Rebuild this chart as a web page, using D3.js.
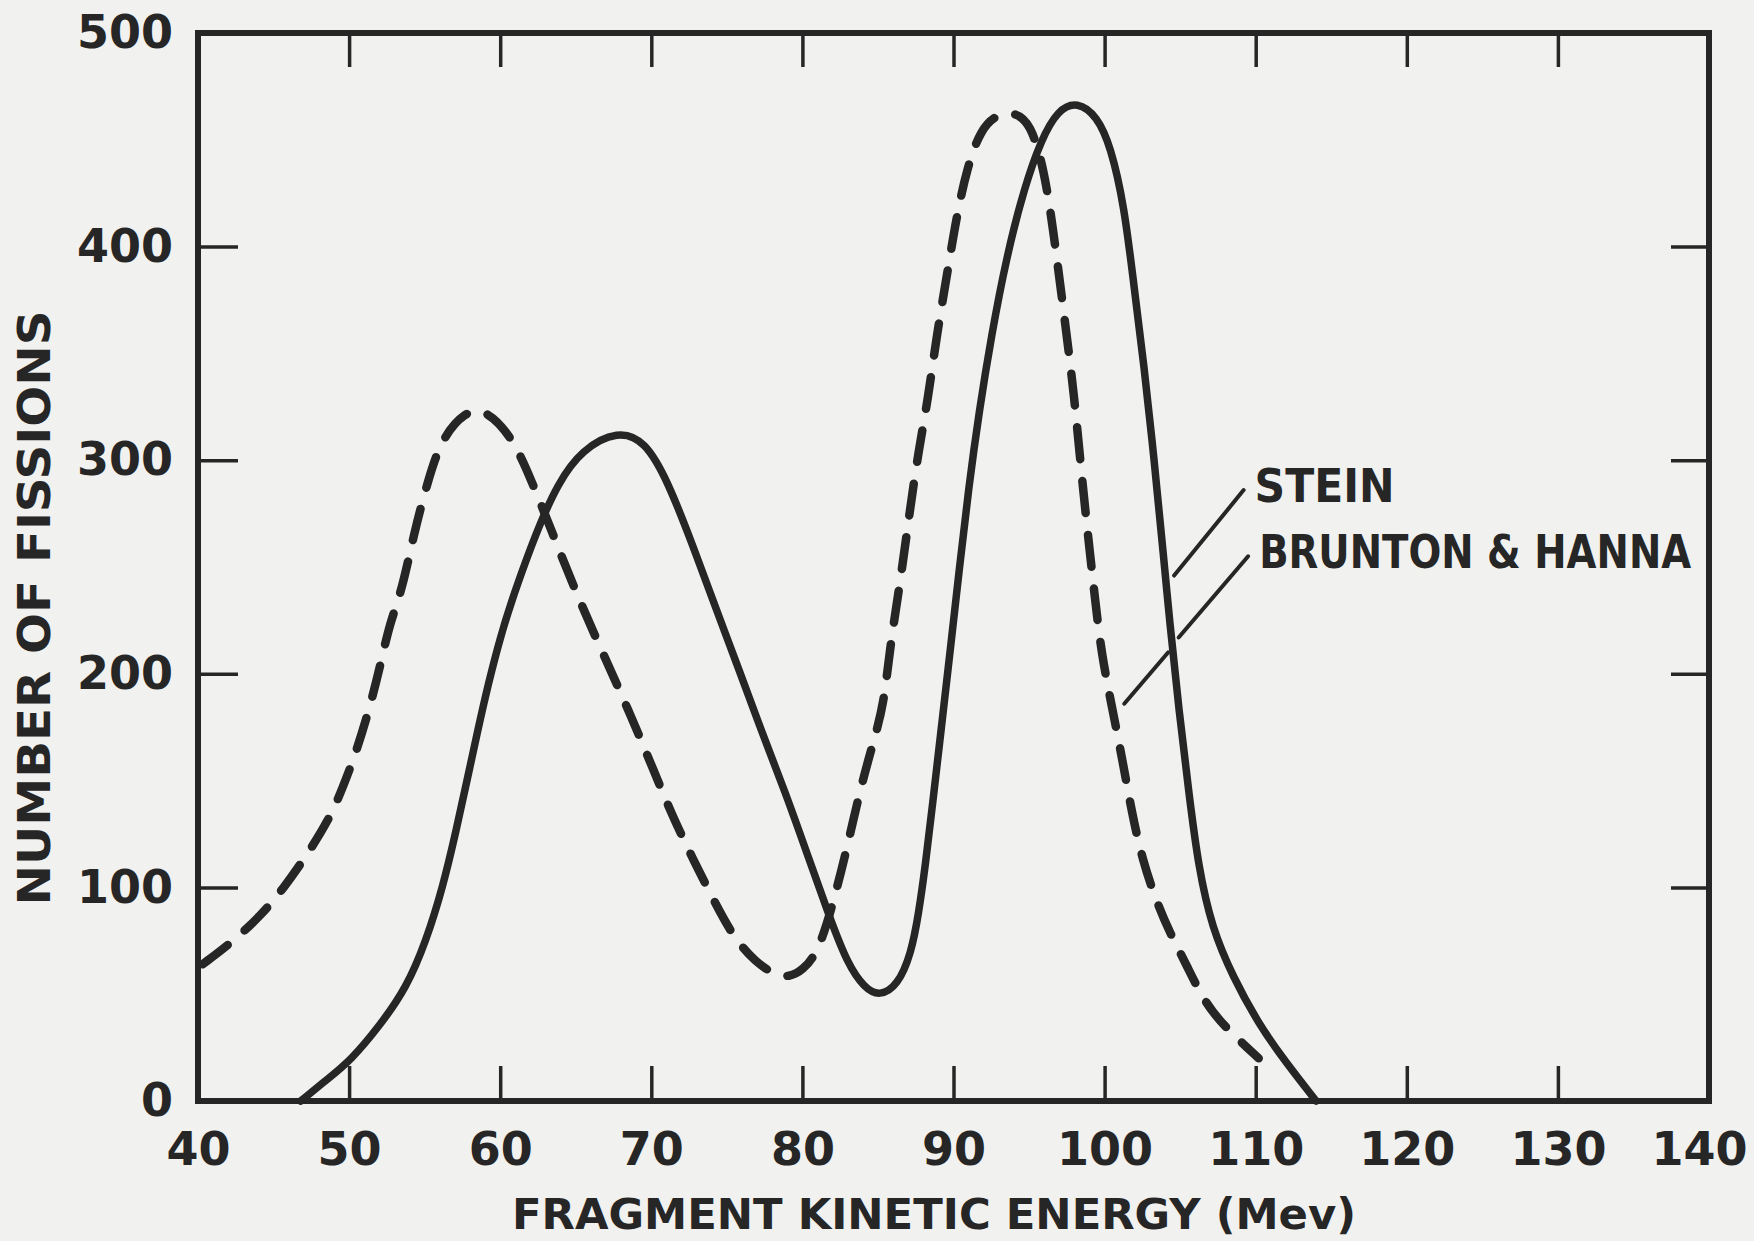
<!DOCTYPE html>
<html>
<head>
<meta charset="utf-8">
<script src="https://cdn.jsdelivr.net/npm/d3@7"></script>
<style>
  html, body { margin: 0; padding: 0; background: #f1f1ef; }
  svg { display: block; }
  text { font-family: "DejaVu Sans", sans-serif; font-weight: bold; fill: #262626; }
</style>
</head>
<body>
<svg id="chart" width="1754" height="1241"></svg>
<script>
// Curves: energy (Mev) and number of fissions.
const steinEnergy = [46.8, 48.7, 50.1, 52.0, 53.8, 55.1, 56.2, 57.1, 57.8, 58.5, 59.2, 60.0, 60.8, 61.6, 62.5, 63.8,
  65.4, 67.8, 69.6, 71.1, 72.7, 74.2, 75.8, 77.3, 78.9, 80.4, 81.8, 83.0, 84.1, 85.1, 86.3, 87.2, 87.7, 88.15,
  88.6, 89.2, 89.8, 90.4, 91.0, 91.7, 92.5, 93.5, 94.7, 95.8, 96.9, 98.2, 99.5, 100.4, 101.3, 101.9, 102.6,
  103.3, 103.9, 104.3, 104.9, 105.6, 106.2, 107.1, 108.5, 110.2, 112, 114];
const steinCount = [0, 11, 19, 35, 53, 75, 100, 127, 150, 173, 195, 217, 235, 251, 268, 289,
  305, 314, 309, 290, 261, 232, 202, 173, 144, 114, 86, 64, 53, 49, 54, 69, 88, 111,
  138, 175, 212, 250, 287, 323, 358, 395, 428, 450, 464, 468, 461, 447, 419, 384, 345,
  299, 255, 225, 184, 143, 110, 81, 58, 36, 18, 0];

const bhEnergy = [40.3, 42.2, 44.2, 45.7, 47.1, 48.7, 49.6, 50.5, 51.4, 52.1, 52.7, 53.5, 54.3, 55.2, 56.1, 57.7,
  59.0, 60.8, 62.1, 63.4, 64.9, 66.7, 68.5, 70.2, 71.3, 72.7, 74.2, 75.5, 76.9, 78.2, 79.1, 80, 81.1, 82.2,
  83.0, 83.9, 84.7, 85.4, 85.8, 86.5, 87.1, 87.7, 88.3, 88.9, 89.6, 90.2, 90.9, 91.8, 92.9, 94.0, 95.1, 96.0,
  96.6, 97.3, 98.0, 98.5, 99.1, 99.4, 99.8, 100.5, 101.2, 101.8, 102.5, 103.4, 104.3, 105.4, 106.7, 108.2, 110.2];
const bhCount = [64, 74, 87, 100, 114, 132, 147, 164, 185, 205, 224, 239, 266, 290, 310, 323,
  324, 311, 290, 267, 240, 211, 183, 154, 135, 114, 93, 76, 65, 59, 58, 61, 70, 97,
  120, 148, 168, 186, 213, 244, 276, 305, 328, 359, 388, 414, 437, 455, 462, 463, 458, 436,
  408, 369, 330, 291, 252, 233, 209, 184, 159, 135, 113, 94, 79, 64, 45, 33, 20];

const xTicks = [40, 50, 60, 70, 80, 90, 100, 110, 120, 130, 140];
const yTicks = [0, 100, 200, 300, 400, 500];
const xTitle = "FRAGMENT KINETIC ENERGY (Mev)";
const yTitle = "NUMBER OF FISSIONS";
const seriesNames = ["STEIN", "BRUNTON & HANNA"];

// Leader lines from the labels to the curves, in data units.
const steinLeader = [[109.2, 286], [104.6, 246]];
const bhLeader = [[[109.5, 255], [104.9, 217]], [[104.2, 210], [101.3, 186]]];

const ink = "#262626";
const svg = d3.select("#chart");

const x = d3.scaleLinear().domain([40, 140]).range([198, 1709]);
const y = d3.scaleLinear().domain([0, 500]).range([1101, 33]);

// Ticks on all four sides, pointing inward.
const axes = [
  { axis: d3.axisBottom(x).tickValues(xTicks).tickSize(-35).tickPadding(31), at: [0, y(0)] },
  { axis: d3.axisTop(x).tickValues(xTicks).tickSize(-34).tickFormat(""), at: [0, y(500)] },
  { axis: d3.axisLeft(y).tickValues(yTicks).tickSize(-40).tickPadding(25), at: [x(40), 0] },
  { axis: d3.axisRight(y).tickValues(yTicks).tickSize(-38).tickFormat(""), at: [x(140), 0] },
];
axes.forEach((a, i) => {
  const g = svg.append("g").attr("transform", `translate(${a.at[0]},${a.at[1]})`).call(a.axis);
  g.select(".domain").remove();
  g.selectAll(".tick line").attr("stroke", ink).attr("stroke-width", 3.5);
  g.selectAll(".tick text")
    .attr("fill", ink)
    .style("font-size", "46px")
    .style("font-family", '"DejaVu Sans", sans-serif')
    .style("font-weight", "bold");
  // The last bottom label sits against the page edge, as in the original.
  if (i === 0) {
    g.selectAll(".tick text").filter((d) => d === 140).attr("text-anchor", "end").attr("x", 38);
  }
});

// Frame.
svg.append("rect")
  .attr("x", x(40)).attr("y", y(500))
  .attr("width", x(140) - x(40)).attr("height", y(0) - y(500))
  .attr("fill", "none").attr("stroke", ink).attr("stroke-width", 6);

const line = d3.line()
  .x((d) => x(d[0]))
  .y((d) => y(d[1]))
  .curve(d3.curveBasis);

// Brunton & Hanna (dashed).
svg.append("path")
  .datum(d3.zip(bhEnergy, bhCount))
  .attr("d", line)
  .attr("fill", "none")
  .attr("stroke", ink)
  .attr("stroke-width", 8.5)
  .attr("stroke-linecap", "round")
  .attr("stroke-dasharray", "32,22");

// Stein (solid).
svg.append("path")
  .datum(d3.zip(steinEnergy, steinCount))
  .attr("d", line)
  .attr("fill", "none")
  .attr("stroke", ink)
  .attr("stroke-width", 7.5)
  .attr("stroke-linejoin", "round")
  .attr("stroke-linecap", "round");

// Leaders and labels.
const leaders = [[steinLeader], bhLeader];
leaders.forEach((segs) => {
  segs.forEach((s) => {
    svg.append("line")
      .attr("x1", x(s[0][0])).attr("y1", y(s[0][1]))
      .attr("x2", x(s[1][0])).attr("y2", y(s[1][1]))
      .attr("stroke", ink).attr("stroke-width", 4).attr("stroke-linecap", "round");
  });
});
const labelWidths = [140, 432];
seriesNames.forEach((name, i) => {
  const top = leaders[i][0][0];
  svg.append("text")
    .attr("x", x(top[0]) + 11)
    .attr("y", y(top[1]) + 12)
    .attr("textLength", labelWidths[i])
    .attr("lengthAdjust", "spacingAndGlyphs")
    .style("font-size", "46px")
    .text(name);
});

// Axis titles.
svg.append("text")
  .attr("x", 512).attr("y", 1229)
  .attr("textLength", 844)
  .attr("lengthAdjust", "spacingAndGlyphs")
  .style("font-size", "43px")
  .text(xTitle);

svg.append("text")
  .attr("transform", "translate(50,608) rotate(-90)")
  .attr("text-anchor", "middle")
  .attr("textLength", 595)
  .attr("lengthAdjust", "spacingAndGlyphs")
  .style("font-size", "45px")
  .text(yTitle);
</script>
</body>
</html>
